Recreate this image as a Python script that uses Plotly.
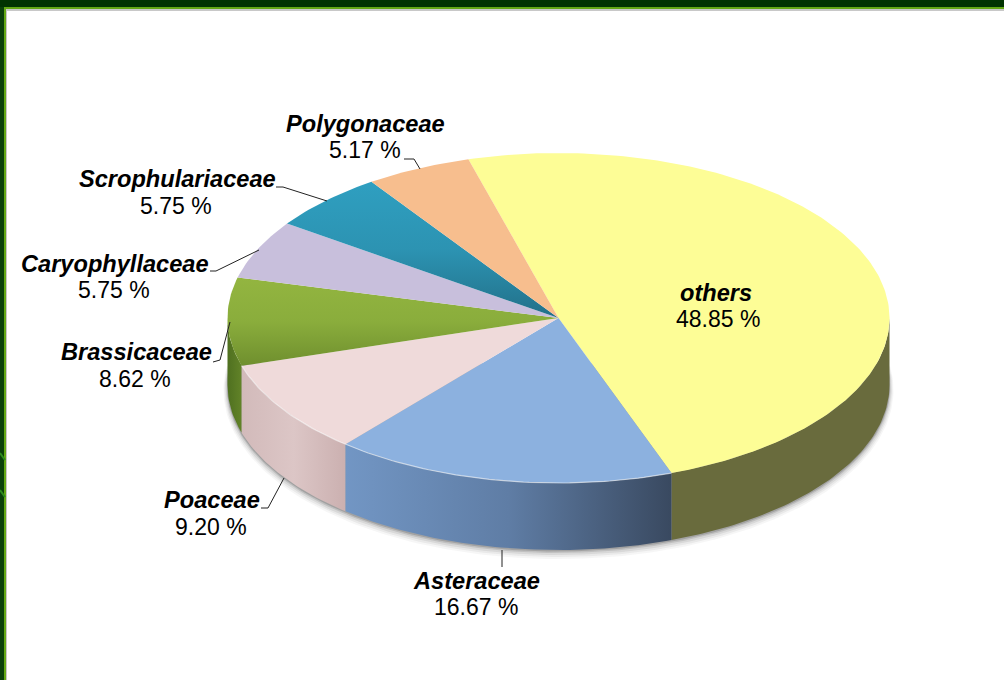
import math
import plotly.graph_objects as go

# ---- data (clockwise from the start angle) ----
categories = ["others", "Asteraceae", "Poaceae", "Brassicaceae",
              "Caryophyllaceae", "Scrophulariaceae", "Polygonaceae"]
percentages = [48.85, 16.67, 9.20, 8.62, 5.75, 5.75, 5.17]

top_colors = {
    "others": "#FDFD96", "Asteraceae": "#8CB1DF", "Poaceae": "#EFDADA",
    "Caryophyllaceae": "#C8BFDC", "Polygonaceae": "#F7BE8E",
}
# listed bottom -> top of the page
top_gradients = {
    "Brassicaceae": ["#6F8F2E", "#8AAD3C", "#93B540"],
    "Scrophulariaceae": ["#227089", "#2C93B2", "#2F9FC0"],
}
# listed left -> right of the page
wall_gradients = {
    "others": ["#696B3D", "#696B3D"],
    "Asteraceae": ["#7296C4", "#5F7DA5", "#394960"],
    "Poaceae": ["#D2BABA", "#DCC6C6", "#CBB0B0"],
    "Brassicaceae": ["#4F7020", "#628328"],
}

# ---- projection of the tilted disc, in page pixels ----
CX, CY, RX, RY, DEPTH = 558.5, 318.0, 331.0, 165.0, 67.0
START_DEG = -15.8
W, H = 1004, 680
FONT = "Liberation Sans, Arial, sans-serif"
NAME_SIZE = 23.6
VALUE_SIZE = 23


def rim(a0, a1, dy=0.0, grow=0.0, step=1.0):
    n = max(2, int(abs(a1 - a0) / step) + 1)
    xs, ys = [], []
    for i in range(n):
        a = math.radians(a0 + (a1 - a0) * i / (n - 1))
        xs.append(CX + (RX + grow) * math.sin(a))
        ys.append(CY + dy - (RY + grow) * math.cos(a))
    return xs, ys


total = sum(percentages)
spans = {}
cursor = START_DEG
for name, val in zip(categories, percentages):
    sweep = val / total * 360.0
    spans[name] = (cursor, cursor + sweep)
    cursor += sweep

fig = go.Figure()


def scale(cols):
    return [[i / (len(cols) - 1), c] for i, c in enumerate(cols)]


# soft shadow below the wall
for grow, dy, alpha in [(4, 5, 0.05), (3, 4, 0.07), (2, 3, 0.10), (1, 2, 0.16), (0.5, 1, 0.25)]:
    xs, ys = rim(82, 278, DEPTH + dy, grow)
    fig.add_trace(go.Scatter(x=xs, y=ys, mode="lines", line=dict(width=0),
                             fill="toself", fillcolor=f"rgba(70,70,70,{alpha})",
                             hoverinfo="skip", showlegend=False))

# side walls
for name in ["others", "Brassicaceae", "Poaceae", "Asteraceae"]:
    a0, a1 = spans[name]
    a0, a1 = max(a0, 90), min(a1, 270)
    xt, yt = rim(a0, a1)
    xb, yb = rim(a1, a0, DEPTH)
    fig.add_trace(go.Scatter(
        x=xt + xb + xt[:1], y=yt + yb + yt[:1], mode="lines", line=dict(width=0),
        fill="toself",
        fillgradient=dict(type="horizontal", colorscale=scale(wall_gradients[name])),
        hoverinfo="skip", showlegend=False))

# top face
for name in categories:
    a0, a1 = spans[name]
    xr, yr = rim(a0, a1)
    xs = [CX] + xr + [CX]
    ys = [CY] + yr + [CY]
    style = dict(fill="toself", mode="lines", line=dict(width=0))
    if name in top_gradients:
        style["fillgradient"] = dict(type="vertical",
                                     colorscale=scale(top_gradients[name]))
    else:
        style["fillcolor"] = top_colors[name]
    fig.add_trace(go.Scatter(x=xs, y=ys, hoverinfo="skip", showlegend=False, **style))

# light rim highlight
xs, ys = rim(spans["Asteraceae"][0], spans["Poaceae"][1])
fig.add_trace(go.Scatter(x=xs, y=ys, mode="lines",
                         line=dict(color="rgba(255,255,255,0.55)", width=1.2),
                         hoverinfo="skip", showlegend=False))

# leader lines
leaders = {
    "Polygonaceae": ([404, 414, 420], [159, 159, 169]),
    "Scrophulariaceae": ([276, 283, 327], [187, 187, 201]),
    "Caryophyllaceae": ([210, 216, 259], [271, 271, 250]),
    "Brassicaceae": ([213, 220, 230], [362, 360, 322]),
    "Poaceae": ([261, 268, 284], [508, 508, 478]),
    "Asteraceae": ([502, 502], [550, 567]),
}
for name, (lx, ly) in leaders.items():
    fig.add_trace(go.Scatter(x=lx, y=ly, mode="lines", line=dict(color="#222222", width=1),
                             hoverinfo="skip", showlegend=False))

# labels: name centre x, value centre x, name y, value y
label_pos = {
    "Polygonaceae": (365, 365, 124, 150),
    "Scrophulariaceae": (177, 176, 179, 206),
    "Caryophyllaceae": (115, 114, 264, 290),
    "Brassicaceae": (136, 135, 352, 379),
    "Poaceae": (212, 211, 500, 527),
    "Asteraceae": (476, 475.5, 581, 607),
    "others": (716, 718, 293, 319),
}
annotations = []
for name, val in zip(categories, percentages):
    cx1, cx2, y1, y2 = label_pos[name]
    annotations.append(dict(x=cx1, y=y1, xref="x", yref="y", showarrow=False,
                            text=f"<b><i>{name}</i></b>",
                            font=dict(family=FONT, size=NAME_SIZE, color="#000000")))
    annotations.append(dict(x=cx2, y=y2, xref="x", yref="y", showarrow=False,
                            text=f"{val:.2f} %",
                            font=dict(family=FONT, size=VALUE_SIZE, color="#000000")))

# page frame
shapes = [
    dict(type="rect", layer="below", xref="x", yref="y", x0=0, x1=W, y0=0, y1=H,
         fillcolor="#0A400A", line=dict(width=0)),
    dict(type="rect", layer="below", xref="x", yref="y", x0=0, x1=W, y0=0, y1=7,
         fillcolor="#013301", line=dict(width=0)),
    dict(type="rect", layer="below", xref="x", yref="y", x0=4, x1=W, y0=7, y1=H,
         fillcolor="#63A814", line=dict(width=0)),
    dict(type="rect", layer="below", xref="x", yref="y", x0=6, x1=W, y0=9, y1=H,
         fillcolor="#C8C8C8", line=dict(width=0)),
    dict(type="rect", layer="below", xref="x", yref="y", x0=7, x1=W, y0=11, y1=H,
         fillcolor="#FFFFFF", line=dict(width=0)),
    dict(type="line", layer="below", xref="x", yref="y", x0=0, x1=5, y0=453, y1=460,
         line=dict(color="#2E8B1E", width=2)),
    dict(type="line", layer="below", xref="x", yref="y", x0=0, x1=5, y0=490, y1=497,
         line=dict(color="#2E8B1E", width=2)),
]

fig.update_layout(
    width=W, height=H, margin=dict(l=0, r=0, t=0, b=0),
    paper_bgcolor="#FFFFFF", plot_bgcolor="rgba(0,0,0,0)",
    xaxis=dict(range=[0, W], visible=False, fixedrange=True),
    yaxis=dict(range=[H, 0], visible=False, fixedrange=True),
    showlegend=False, shapes=shapes, annotations=annotations,
)
fig.write_html("out.html", config=dict(displayModeBar=False),
               post_script="document.body.style.margin='0';document.documentElement.style.overflow='hidden';")
